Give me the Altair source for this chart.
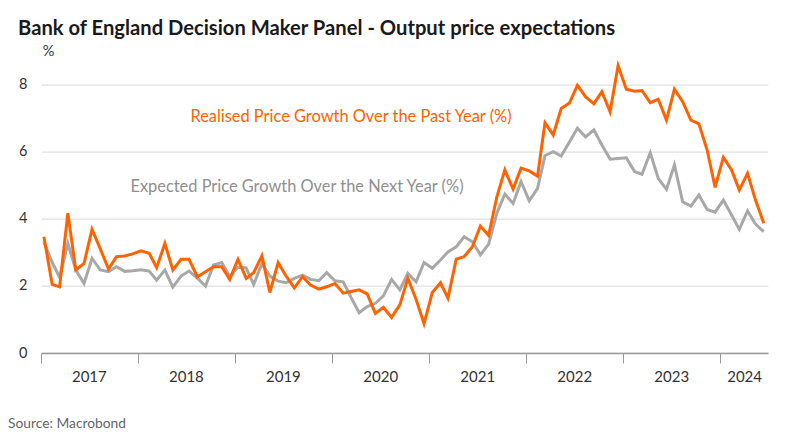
import altair as alt
import pandas as pd

# Monthly observations, Jan 2017 - Jun 2024
months = [f"{2017 + i // 12}-{i % 12 + 1:02d}-12" for i in range(90)]

realised = [
    3.46, 2.04, 1.97, 4.16, 2.47, 2.67, 3.68, 3.10, 2.50, 2.87, 2.89, 2.95,
    3.04, 2.97, 2.54, 3.26, 2.47, 2.79, 2.79, 2.27, 2.42, 2.57, 2.57, 2.19,
    2.79, 2.22, 2.39, 2.89, 1.80, 2.69, 2.29, 1.94, 2.27, 2.02, 1.90, 1.97,
    2.07, 1.78, 1.83, 1.88, 1.76, 1.18, 1.36, 1.06, 1.43, 2.22, 1.60, 0.87,
    1.80, 2.09, 1.63, 2.79, 2.87, 3.16, 3.78, 3.50, 4.65, 5.45, 4.88, 5.50,
    5.42, 5.26, 6.85, 6.49, 7.28, 7.44, 7.97, 7.62, 7.42, 7.78, 7.18, 8.55,
    7.85, 7.79, 7.81, 7.45, 7.55, 6.93, 7.85, 7.48, 6.93, 6.82, 6.04, 4.93,
    5.82, 5.45, 4.85, 5.35, 4.55, 3.86,
]

expected = [
    3.30, 2.70, 2.25, 3.26, 2.47, 2.07, 2.82, 2.47, 2.42, 2.57, 2.43, 2.45,
    2.48, 2.44, 2.17, 2.47, 1.96, 2.29, 2.44, 2.23, 1.99, 2.62, 2.69, 2.28,
    2.55, 2.53, 2.04, 2.66, 2.29, 2.14, 2.09, 2.22, 2.32, 2.19, 2.15, 2.39,
    2.15, 2.12, 1.66, 1.20, 1.38, 1.48, 1.70, 2.19, 1.88, 2.37, 2.12, 2.69,
    2.52, 2.77, 3.01, 3.16, 3.46, 3.31, 2.92, 3.24, 4.16, 4.73, 4.45, 5.10,
    4.53, 4.90, 5.87, 5.99, 5.86, 6.28, 6.69, 6.43, 6.64, 6.19, 5.77, 5.79,
    5.81, 5.40, 5.32, 5.96, 5.20, 4.87, 5.60, 4.50, 4.37, 4.70, 4.27, 4.19,
    4.55, 4.11, 3.68, 4.23, 3.84, 3.61,
]

year_labels = ["2017", "2018", "2019", "2020", "2021", "2022", "2023", "2024"]
year_label_dates = ["2017-07-02", "2018-07-02", "2019-07-02", "2020-07-02",
                    "2021-07-02", "2022-07-02", "2023-07-02", "2024-04-01"]

title_text = "Bank of England Decision Maker Panel - Output price expectations"
realised_label = ["Realised Price Growth Over the Past Year (%)"]
expected_label = ["Expected Price Growth Over the Next Year (%)"]
source_label = ["Source: Macrobond"]

ORANGE = "#FF6200"
GREY = "#A8A8A8"

df = pd.DataFrame({"date": months, "realised": realised, "expected": expected})
labels_df = pd.DataFrame({"date": year_label_dates, "label": year_labels})


def ms(s):
    return int(pd.Timestamp(s).value // 10**6)


tick_ms = [ms(f"{y}-01-01") for y in range(2017, 2025)]
x_scale = alt.Scale(type="utc", domain=[ms("2017-01-01"), ms("2024-06-28")], nice=False)
y_scale = alt.Scale(domain=[0, 9], nice=False, zero=True)

x_axis = alt.Axis(values=tick_ms, labels=False, title=None, grid=False,
                  tickSize=10, tickColor="#9a9a9a", tickWidth=1,
                  domainColor="#9a9a9a", domainWidth=1.5, zindex=1)
y_axis = alt.Axis(values=[0, 2, 4, 6, 8], grid=True, gridColor="#d9d9d9", gridWidth=1,
                  domain=False, ticks=False, labelPadding=14, labelFontSize=14.5,
                  labelColor="#333333", title="%", titleAngle=0, titleX=7, titleY=1,
                  titleAlign="center", titleBaseline="middle", titleFontWeight="normal",
                  titleFontSize=14.5, titleColor="#333333")

base = alt.Chart(df)

grey_line = base.mark_line(color=GREY, strokeWidth=3).encode(
    x=alt.X("date:T", scale=x_scale, axis=x_axis),
    y=alt.Y("expected:Q", scale=y_scale, axis=y_axis),
)
orange_line = base.mark_line(color=ORANGE, strokeWidth=3).encode(
    x=alt.X("date:T", scale=x_scale),
    y=alt.Y("realised:Q", scale=y_scale),
)

years_text = alt.Chart(labels_df).mark_text(fontSize=15, color="#333333", baseline="middle").encode(
    x=alt.X("date:T", scale=x_scale),
    y=alt.value(326.4),
    text="label:N",
)

realised_text = alt.Chart(pd.DataFrame({"t": realised_label})).mark_text(
    fontSize=16.4, color=ORANGE, baseline="middle", align="center"
).encode(x=alt.value(310), y=alt.value(66), text="t:N")

expected_text = alt.Chart(pd.DataFrame({"t": expected_label})).mark_text(
    fontSize=16.4, color="#8f8f8f", baseline="middle", align="center"
).encode(x=alt.value(256), y=alt.value(136), text="t:N")

source_text = alt.Chart(pd.DataFrame({"t": source_label})).mark_text(
    fontSize=13.8, color="#666666", baseline="middle", align="left"
).encode(x=alt.value(-33), y=alt.value(373.4), text="t:N")

chart = alt.layer(
    grey_line, orange_line, years_text, realised_text, expected_text, source_text
).properties(
    width=727,
    height=302.4,
    padding={"left": 41, "top": 50.6, "right": 17, "bottom": 82},
    autosize=alt.AutoSizeParams(type="none"),
    title=alt.TitleParams(text=title_text, anchor="start", frame="group", dx=-23, offset=4,
                          fontSize=20.2, font="Lato", fontWeight="bold", color="#1a1a1a"),
).configure(font="Lato").configure_view(stroke=None)

chart.save("out.html", embed_options={"renderer": "svg", "actions": False})
